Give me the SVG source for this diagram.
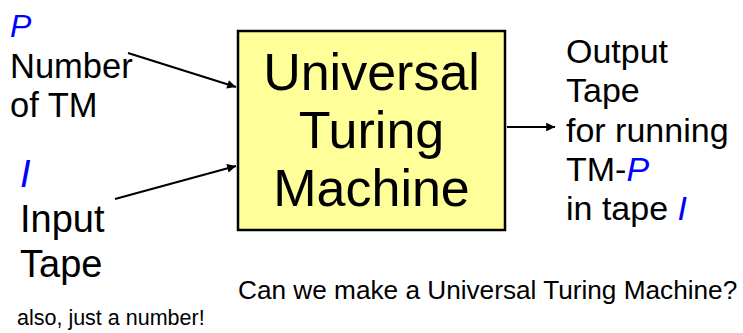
<svg xmlns="http://www.w3.org/2000/svg" width="743" height="333" viewBox="0 0 743 333">
<style>
text{font-family:"Liberation Sans",Arial,sans-serif;fill:#000}
.v{fill:#0000FF;font-style:italic}
.c{stroke:#000;stroke-width:2.2;fill:none}
</style>
<defs>
<marker id="ah" viewBox="0 0 10 10" refX="10" refY="5" markerWidth="4.5" markerHeight="4" orient="auto" markerUnits="strokeWidth">
<path d="M0,0 L10,5 L0,10 z" fill="#000"/>
</marker>
</defs>
<rect width="743" height="333" fill="#fff"/>
<g id="utm">
<rect x="238" y="31" width="267" height="199" fill="#FFFF99" stroke="#000" stroke-width="2.5"/>
<text x="371.5" y="90" font-size="52" text-anchor="middle">Universal</text>
<text x="371.5" y="148" font-size="52" text-anchor="middle">Turing</text>
<text x="371.5" y="206" font-size="52" text-anchor="middle">Machine</text>
</g>
<g id="program">
<text x="10" y="37" font-size="32" class="v">P</text>
<text x="10" y="78" font-size="34.5">Number</text>
<text x="10" y="117" font-size="34.5">of TM</text>
</g>
<g id="input">
<text x="20" y="187" font-size="38" class="v">I</text>
<text x="20" y="232" font-size="38">Input</text>
<text x="20" y="277" font-size="38">Tape</text>
</g>
<g id="output">
<text x="566" y="63" font-size="34">Output</text>
<text x="566" y="102" font-size="34">Tape</text>
<text x="566" y="142" font-size="34">for running</text>
<text x="566" y="181" font-size="34">TM-<tspan class="v">P</tspan></text>
<text x="566" y="220" font-size="34">in tape <tspan class="v">I</tspan></text>
</g>
<g id="note">
<text x="17" y="325" font-size="21.5">also, just a number!</text>
<text x="238" y="299" font-size="26.2">Can we make a Universal Turing Machine?</text>
</g>
<g id="connectors">
<line class="c" x1="128" y1="53" x2="236" y2="87" marker-end="url(#ah)"/>
<line class="c" x1="115" y1="199" x2="236" y2="166" marker-end="url(#ah)"/>
<line class="c" x1="507" y1="127" x2="555" y2="127" stroke-width="1.9" marker-end="url(#ah)"/>
</g>
</svg>
